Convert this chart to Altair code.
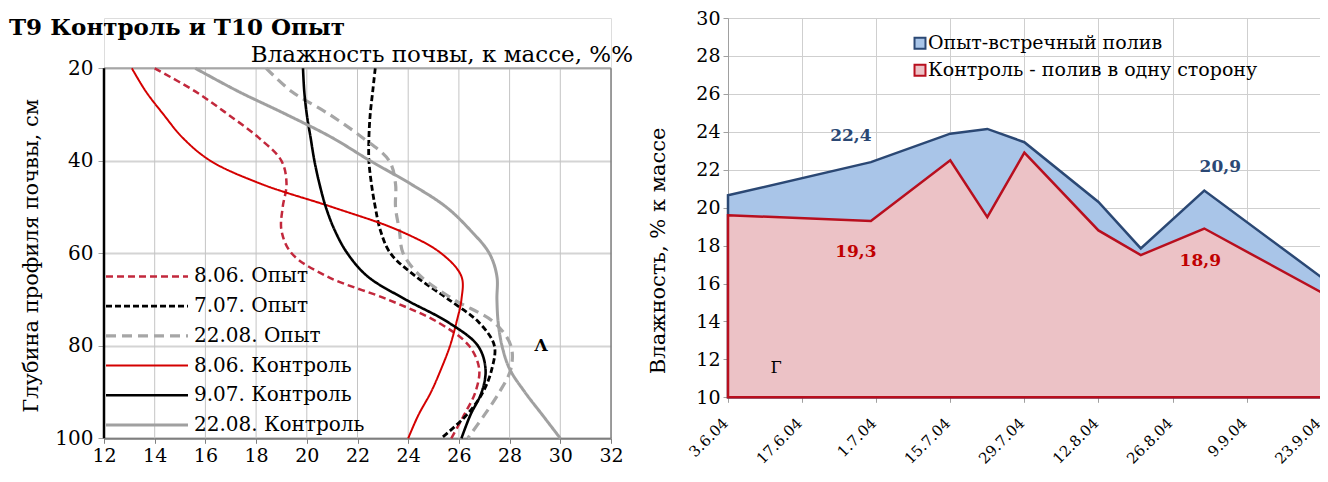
import altair as alt
import pandas as pd

FONT = "DejaVu Serif"

# ---------------- Left panel: soil moisture profiles ----------------
left_title = "T9 Контроль и T10 Опыт"
left_subtitle = "Влажность почвы, к массе, %%"
left_ytitle = "Глубина профиля почвы, см"
left_mark = "Λ"

depths = [20, 25, 30, 35, 40, 45, 50, 55, 60, 65, 70, 75, 80, 85, 90, 95, 100]
opyt_0806 = [14.0, 15.6, 16.9, 18.1, 19.0, 19.2, 19.05, 19.0, 19.4, 20.8, 23.2, 25.2, 26.4, 26.8, 26.65, 26.2, 25.7]
opyt_0707 = [22.7, 22.6, 22.5, 22.45, 22.45, 22.55, 22.7, 22.9, 23.3, 24.3, 25.6, 26.8, 27.4, 27.3, 26.95, 26.3, 25.3]
opyt_2208 = [18.4, 19.4, 20.9, 22.2, 23.25, 23.5, 23.5, 23.65, 23.8, 24.5, 25.8, 27.4, 28.05, 28.05, 27.6, 27.0, 26.35]
kontrol_0806 = [13.1, 13.65, 14.35, 15.1, 16.2, 18.2, 21.0, 23.6, 25.3, 26.1, 26.1, 25.9, 25.65, 25.3, 24.9, 24.4, 24.0]
kontrol_0907 = [19.85, 19.9, 20.0, 20.15, 20.3, 20.5, 20.75, 21.1, 21.6, 22.4, 23.9, 25.6, 26.75, 27.05, 26.9, 26.45, 26.1]
kontrol_2208 = [15.6, 17.3, 19.2, 21.0, 22.5, 24.1, 25.5, 26.45, 27.2, 27.5, 27.5, 27.55, 27.7, 28.0, 28.6, 29.3, 30.0]

series_names = ["8.06. Опыт", "7.07. Опыт", "22.08. Опыт",
                "8.06. Контроль", "9.07. Контроль", "22.08. Контроль"]
profiles = [opyt_0806, opyt_0707, opyt_2208, kontrol_0806, kontrol_0907, kontrol_2208]
x_ticks_left = [12, 14, 16, 18, 20, 22, 24, 26, 28, 30, 32]
y_ticks_left = [20, 40, 60, 80, 100]

series_colors = ["#C2283C", "#000000", "#A6A6A6", "#D40000", "#000000", "#A0A0A0"]
series_dashes = [[7, 4], [6, 3], [10, 6], [1, 0], [1, 0], [1, 0]]
series_widths = [2.5, 2.8, 3.2, 2.0, 2.6, 3.0]

# ---------------- Right panel: moisture over season ----------------
right_ytitle = "Влажность, % к массе"
right_mark = "Г"
dates = ["2004/06/03", "2004/06/30", "2004/07/15", "2004/07/22", "2004/07/29",
         "2004/08/12", "2004/08/20", "2004/09/01", "2004/09/24"]
opyt_vals = [20.65, 22.4, 23.9, 24.15, 23.45, 20.3, 17.85, 20.9, 16.15]
kontrol_vals = [19.6, 19.3, 22.5, 19.5, 22.9, 18.8, 17.5, 18.9, 15.4]
right_series = ["Опыт-встречный  полив", "Контроль -  полив в одну сторону"]
right_fills = ["#A9C5E8", "#ECC2C6"]
right_strokes = ["#2B4874", "#B80F1E"]
tick_dates = [(6, 3), (6, 17), (7, 1), (7, 15), (7, 29), (8, 12), (8, 26), (9, 9), (9, 23)]
y_ticks_right = [10, 12, 14, 16, 18, 20, 22, 24, 26, 28, 30]

# ---------------- layout constants ----------------
PAD = {"top": 0, "left": 0, "right": -12, "bottom": 0}
Y0 = 19.7
LW = 507
LH = 440 - Y0
RW = 598
RH = 399 - Y0
SPACING = 117

# ---------------- build left panel ----------------
xs_left = alt.Scale(domain=[12, 32], nice=False, zero=False)
ys_left = alt.Scale(domain=[20, 100], range=[70 - Y0, 440 - Y0], nice=False, zero=False)

x_axis_left = alt.Axis(values=x_ticks_left, grid=False, title=None, labelFlush=False,
                       labelOverlap=False,
                       domain=True, domainColor="#7F7F7F", domainWidth=2,
                       tickColor="#7F7F7F", tickSize=5, labelPadding=3,
                       labelFontSize=19, labelFont=FONT, labelColor="#000")
y_axis_left = alt.Axis(values=y_ticks_left, grid=True, gridColor="#D4D4D4", gridWidth=2,
                       labelFlush=False, labelOverlap=False,
                       domain=False, tickColor="#A0A0A0", tickSize=6, labelPadding=5,
                       labelFontSize=20, labelFont=FONT, labelColor="#000",
                       title=left_ytitle, titleFont=FONT, titleFontSize=21,
                       titleFontWeight="normal", titleColor="#000",
                       titleAngle=270, titleX=30 - 103, titleY=257 - Y0,
                       titleAlign="center", titleBaseline="middle")

# base layer carrying the axes
base = alt.Chart(pd.DataFrame({"gx": [12.0], "gy": [20.0]})).mark_point(opacity=0).encode(
    x=alt.X("gx:Q", scale=xs_left, axis=x_axis_left),
    y=alt.Y("gy:Q", scale=ys_left, axis=y_axis_left))

vgrid = alt.Chart(pd.DataFrame({"gx": x_ticks_left[1:-1]})).mark_rule(
    color="#C4C4C4", strokeWidth=1).encode(
    x=alt.X("gx:Q", axis=x_axis_left), y=alt.datum(20), y2=alt.datum(100))

left_border = alt.Chart(pd.DataFrame({"gx": [x_ticks_left[0]]})).mark_rule(
    color="#000000", strokeWidth=2.5).encode(
    x=alt.X("gx:Q", axis=x_axis_left), y=alt.datum(20), y2=alt.datum(100))

right_border = alt.Chart(pd.DataFrame({"gx": [x_ticks_left[-1]]})).mark_rule(
    color="#7F7F7F", strokeWidth=1.5).encode(
    x=alt.X("gx:Q", axis=x_axis_left), y=alt.datum(20), y2=alt.datum(100))

top_border = alt.Chart(pd.DataFrame({"gy": [y_ticks_left[0]]})).mark_rule(
    color="#A6A6A6", strokeWidth=2).encode(
    y=alt.Y("gy:Q", axis=y_axis_left), x=alt.datum(12), x2=alt.datum(32))

line_layers = []
legend_layers = []
for i, (name, vals) in enumerate(zip(series_names, profiles)):
    d = pd.DataFrame({"depth": depths, "moist": vals})
    line_layers.append(
        alt.Chart(d).mark_line(interpolate="catmull-rom", color=series_colors[i],
                               strokeDash=series_dashes[i],
                               strokeWidth=series_widths[i]).encode(
            x=alt.X("moist:Q", axis=x_axis_left), y=alt.Y("depth:Q", axis=y_axis_left),
            order=alt.Order("depth:Q")))
    ld = pd.DataFrame({"series": [name], "ly": [65 + i * 6.42]})
    legend_layers.append(
        alt.Chart(ld).mark_rule(color=series_colors[i], strokeDash=series_dashes[i],
                                strokeWidth=series_widths[i]).encode(
            x=alt.value(2), x2=alt.value(84), y=alt.Y("ly:Q", axis=y_axis_left)))
    legend_layers.append(
        alt.Chart(ld).mark_text(align="left", baseline="middle", font=FONT,
                                fontSize=20, color="#000").encode(
            x=alt.value(90), y=alt.Y("ly:Q", axis=y_axis_left), text="series:N"))

title_txt = alt.Chart(pd.DataFrame({"t": [left_title]})).mark_text(
    align="left", baseline="middle", font=FONT, fontSize=23, fontWeight="bold",
    color="#000").encode(x=alt.value(8 - 103), y=alt.value(30 - Y0), text="t:N")
sub_txt = alt.Chart(pd.DataFrame({"t": [left_subtitle]})).mark_text(
    align="right", baseline="middle", font=FONT, fontSize=23, color="#000").encode(
    x=alt.value(632 - 103), y=alt.value(57 - Y0), text="t:N")
mark_txt = alt.Chart(pd.DataFrame({"t": [left_mark]})).mark_text(
    align="center", baseline="middle", font=FONT, fontSize=17, fontWeight="bold",
    color="#000").encode(x=alt.value(540 - 103), y=alt.value(348 - Y0), text="t:N")

left = alt.layer(base, vgrid, top_border, right_border, *line_layers, left_border,
                 *legend_layers, title_txt, sub_txt, mark_txt).properties(
    width=LW, height=LH)

# ---------------- build right panel ----------------
xs_right = alt.Scale(domain=[alt.DateTime(year=2004, month=6, date=3),
                             alt.DateTime(year=2004, month=9, date=24)], nice=False)
ys_right = alt.Scale(domain=[10, 30], nice=False, zero=False)

x_axis_right = alt.Axis(values=[alt.DateTime(year=2004, month=m, date=d) for m, d in tick_dates],
                        format="%-d.%-m.%y", labelAngle=315, labelAlign="right",
                        labelBaseline="middle", labelPadding=18, labelOffset=-3,
                        labelFlush=False, labelOverlap=False,
                        labelFont=FONT, labelFontSize=15, labelColor="#000",
                        grid=True, gridColor="#CFCFCF", tickColor="#A0A0A0",
                        tickSize=5, domainColor="#A0A0A0", title=None)
y_axis_right = alt.Axis(values=y_ticks_right, grid=True, gridColor="#CFCFCF",
                        labelFlush=False, labelOverlap=False, tickCount=len(y_ticks_right),
                        domainColor="#A0A0A0", tickColor="#A0A0A0", tickSize=5,
                        labelPadding=3, labelFont=FONT, labelFontSize=19,
                        labelColor="#000", title=right_ytitle, titleFont=FONT,
                        titleFontSize=21, titleFontWeight="normal", titleColor="#000",
                        titleAngle=270, titleX=657 - 727, titleY=252 - Y0,
                        titleAlign="center", titleBaseline="middle")


def xr():
    return alt.X("date:T", scale=xs_right, axis=x_axis_right)


def yr():
    return alt.Y("value:Q", scale=ys_right, axis=y_axis_right, stack=None)


df_opyt = pd.DataFrame({"date": dates, "value": opyt_vals})
df_kontrol = pd.DataFrame({"date": dates, "value": kontrol_vals})

area_opyt = alt.Chart(df_opyt).mark_area(
    strokeWidth=2.5, fill=right_fills[0], stroke=right_strokes[0],
    opacity=1, fillOpacity=1).encode(x=xr(), y=yr(), y2=alt.datum(10))
area_kontrol = alt.Chart(df_kontrol).mark_area(
    strokeWidth=2.5, fill=right_fills[1], stroke=right_strokes[1],
    opacity=1, fillOpacity=1).encode(x=xr(), y=yr(), y2=alt.datum(10))


def fmt(v):
    return f"{v:.1f}".replace(".", ",")


def value_label(idx, vals, color, dx, dy):
    d = pd.DataFrame({"date": [dates[idx]], "value": [vals[idx]], "lbl": [fmt(vals[idx])]})
    return alt.Chart(d).mark_text(font=FONT, fontSize=17, fontWeight="bold", color=color,
                                  dx=dx, dy=dy).encode(x=xr(), y=yr(), text="lbl:N")


lab1 = value_label(1, opyt_vals, "#2B4874", -20, -26)
lab2 = value_label(7, opyt_vals, "#2B4874", 16, -24)
lab3 = value_label(1, kontrol_vals, "#C00000", -15, 31)
lab4 = value_label(7, kontrol_vals, "#C00000", -4, 32)

# manual legend
leg_layers = []
for i, name in enumerate(right_series):
    ld = pd.DataFrame({"t": [name]})
    leg_layers.append(alt.Chart(ld).mark_square(
        size=120, fill=right_fills[i], stroke=right_strokes[i], strokeWidth=2,
        opacity=1, fillOpacity=1).encode(
        x=alt.value(919 - 727), y=alt.value(45 + 27 * i - Y0)))
    leg_layers.append(alt.Chart(ld).mark_text(
        align="left", baseline="middle", font=FONT, fontSize=19, color="#000").encode(
        x=alt.value(927 - 727), y=alt.value(45 + 27 * i - Y0), text="t:N"))

rmark = alt.Chart(pd.DataFrame({"t": [right_mark]})).mark_text(
    align="center", baseline="middle", font=FONT, fontSize=17, color="#000").encode(
    x=alt.value(775 - 727), y=alt.value(370 - Y0), text="t:N")

right = alt.layer(area_opyt, area_kontrol, lab1, lab2, lab3, lab4, *leg_layers, rmark).properties(
    width=RW, height=RH)

chart = alt.hconcat(left, right, spacing=SPACING, bounds="flush",
                    padding=PAD).configure_view(
    stroke=None).configure(background="white")

chart.save("out.html", embed_options={"renderer": "svg", "actions": False})
